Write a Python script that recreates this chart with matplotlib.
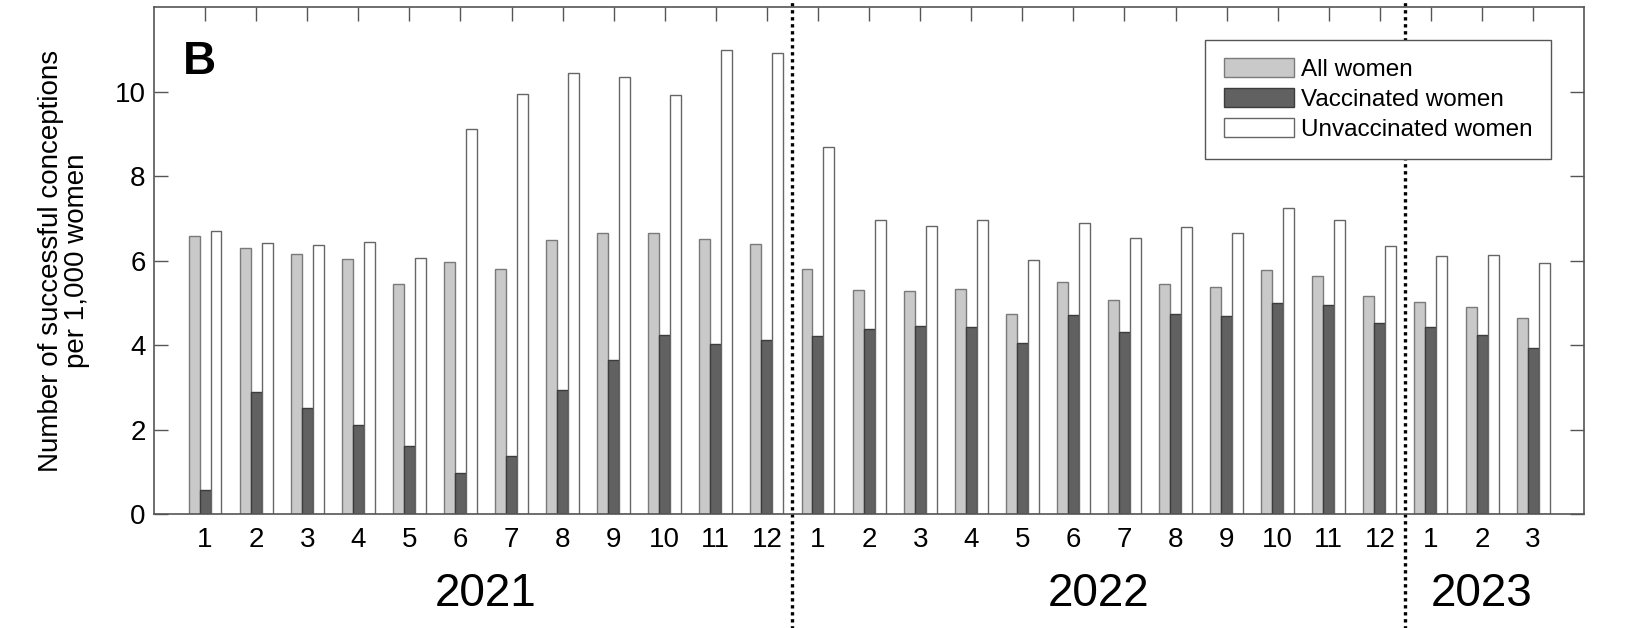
import matplotlib
matplotlib.use("Agg")
import matplotlib.pyplot as plt
import matplotlib.transforms as mtransforms
import numpy as np

plt.rcParams['font.family'] = ['Liberation Sans', 'DejaVu Sans']

# months shown per year
years = ['2021', '2022', '2023']
months_per_year = [12, 12, 3]
month_labels = [str(m) for n in months_per_year for m in range(1, n + 1)]

# successful conceptions per 1,000 women
all_women = [6.58, 6.29, 6.15, 6.05, 5.45, 5.97, 5.79, 6.48, 6.66, 6.66, 6.51, 6.40,
             5.79, 5.30, 5.29, 5.33, 4.74, 5.49, 5.07, 5.45, 5.38, 5.78, 5.64, 5.16,
             5.01, 4.89, 4.63]
vaccinated = [0.56, 2.89, 2.51, 2.11, 1.60, 0.97, 1.38, 2.93, 3.65, 4.25, 4.02, 4.12,
              4.21, 4.39, 4.46, 4.44, 4.06, 4.72, 4.31, 4.74, 4.70, 5.00, 4.95, 4.53,
              4.43, 4.25, 3.94]
unvaccinated = [6.70, 6.41, 6.36, 6.43, 6.06, 9.11, 9.95, 10.45, 10.35, 9.93, 10.98, 10.91,
                8.69, 6.95, 6.82, 6.97, 6.01, 6.90, 6.53, 6.80, 6.65, 7.25, 6.95, 6.34,
                6.11, 6.13, 5.95]

x = np.arange(len(month_labels))
w = 0.215
spine_col = '#555555'

fig = plt.figure(figsize=(16.29, 6.28), dpi=100)
ax = fig.add_axes([0.0945, 0.1815, 0.878, 0.807])

ax.bar(x - w, all_women, w, color='#c9c9c9', edgecolor='#7a7a7a', linewidth=1.0,
       label='All women')
ax.bar(x, vaccinated, w, color='#616161', edgecolor='#3c3c3c', linewidth=1.0,
       label='Vaccinated women')
ax.bar(x + w, unvaccinated, w, color='white', edgecolor='#666666', linewidth=1.0,
       label='Unvaccinated women')

ax.set_xlim(-1, len(x))
ax.set_ylim(0, 12)
ax.set_yticks([0, 2, 4, 6, 8, 10])
ax.set_xticks(x)
ax.set_xticklabels(month_labels)

for s in ax.spines.values():
    s.set_color(spine_col)
    s.set_linewidth(1.2)

ax.tick_params(axis='y', direction='in', length=10, width=1, color=spine_col,
               labelsize=20, pad=6, right=True)
ax.tick_params(axis='x', direction='in', length=10, width=1, color=spine_col,
               labelsize=20, pad=9, top=True, bottom=False)

ax.set_ylabel('Number of successful conceptions\nper 1,000 women', fontsize=20,
              labelpad=18, linespacing=1.0)

ax.text(0.02, 0.935, 'B', transform=ax.transAxes, fontsize=33, fontweight='bold',
        va='top', ha='left')

# year labels and dotted separators
trans = mtransforms.blended_transform_factory(ax.transData, ax.transAxes)
start = 0
for yr, n in zip(years, months_per_year):
    ax.text(start + (n - 1) / 2, -0.158, yr, transform=trans, fontsize=33,
            ha='center', va='center')
    if start + n < len(x):
        ax.plot([start + n - 0.5] * 2, [-0.23, 1.02], transform=trans, color='black',
                linestyle=(0, (1, 1.1)), linewidth=2.4, clip_on=False,
                dash_capstyle='butt')
    start += n

leg = ax.legend(loc='upper right', bbox_to_anchor=(0.977, 0.935), borderaxespad=0,
                fontsize=17.5, fancybox=False, framealpha=1, edgecolor=spine_col,
                handlelength=2.9, handleheight=0.8, handletextpad=0.3,
                labelspacing=0.3, borderpad=0.75)
leg.get_frame().set_linewidth(1.0)

fig.savefig('out.png', dpi=100)
